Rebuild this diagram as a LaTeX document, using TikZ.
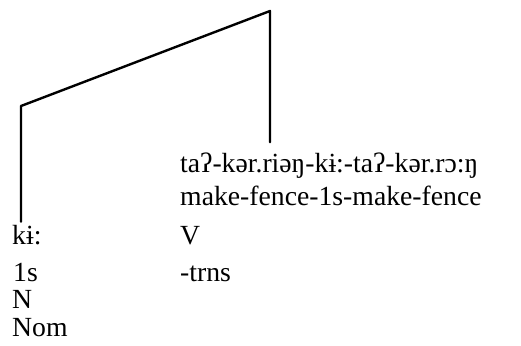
\documentclass[tikz,border=0pt]{standalone}
\usepackage{fontspec}
\setmainfont{Liberation Serif}
\usepackage{tikz}

\begin{document}
\begin{tikzpicture}[x=1pt, y=-1pt, font=\fontsize{27.7}{33}\selectfont,
    branch/.style={line width=2.4pt, line join=round, line cap=round},
    gloss/.style={anchor=base west, inner sep=0pt}]
  \useasboundingbox (0,0) rectangle (521,345);
  % Root of the tree and the bend of its left branch.
  \coordinate (root) at (270,11);
  \coordinate (bend) at (21,106);
  % Left leaf: the pronoun with its glosses.
  \node[gloss] (proForm) at (12,244) {kɨ:};
  \node[gloss] (proGloss) at (13,281) {1s};
  \node[gloss] (proCat) at (12,308) {N};
  \node[gloss] (proCase) at (12,336) {Nom};
  % Right leaf: the verb with its glosses.
  \node[gloss] (verbForm) at (180,172) {taʔ-kər.riəŋ-kɨ:-taʔ-kər.rɔ:ŋ};
  \node[gloss] (verbGloss) at (180,205) {make-fence-1s-make-fence};
  \node[gloss] (verbCat) at (180,244) {V};
  \node[gloss] (verbVal) at (180,281) {-trns};
  \draw[branch] ([yshift=3pt]proForm.north -| bend) -- (bend) -- (root)
    -- ([yshift=10pt]verbForm.north -| root);
\end{tikzpicture}
\end{document}
